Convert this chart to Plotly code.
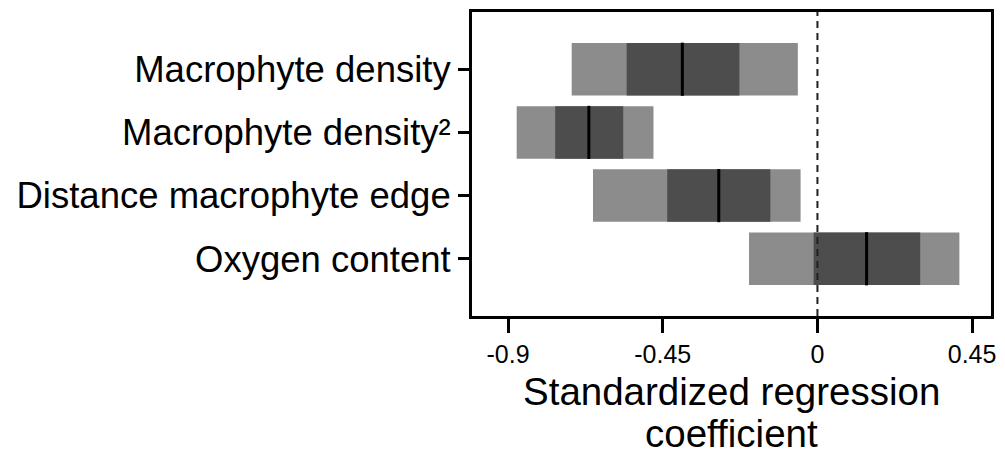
import plotly.graph_objects as go

# Predictors, top to bottom
categories = ["Macrophyte density", "Macrophyte density²",
              "Distance macrophyte edge", "Oxygen content"]

# Outer interval (light band)
outer_low = [-0.715, -0.875, -0.653, -0.199]
outer_high = [-0.057, -0.477, -0.049, 0.413]
# Inner interval (dark band)
inner_low = [-0.555, -0.763, -0.437, -0.011]
inner_high = [-0.227, -0.565, -0.137, 0.299]
# Point estimate
median = [-0.393, -0.665, -0.287, 0.143]

x_ticks = [-0.9, -0.45, 0, 0.45]
x_tick_labels = ["-0.9", "-0.45", "0", "0.45"]
x_title_lines = ["Standardized regression", "coefficient"]

FONT = "Arial, Liberation Sans, sans-serif"
LIGHT = "#8c8c8c"
DARK = "#4d4d4d"
BAR_W = 0.83

fig = go.Figure()

fig.add_trace(go.Bar(
    y=categories,
    x=[h - l for l, h in zip(outer_low, outer_high)],
    base=outer_low,
    orientation="h",
    width=BAR_W,
    marker=dict(color=LIGHT, line=dict(width=0)),
    showlegend=False,
))
fig.add_trace(go.Bar(
    y=categories,
    x=[h - l for l, h in zip(inner_low, inner_high)],
    base=inner_low,
    orientation="h",
    width=BAR_W,
    marker=dict(color=DARK, line=dict(width=0)),
    showlegend=False,
))
fig.add_trace(go.Scatter(
    y=categories,
    x=median,
    mode="markers",
    marker=dict(symbol="line-ns", size=38,
                line=dict(width=3, color="black")),
    showlegend=False,
))

# Zero reference line
fig.add_vline(x=0, line=dict(color="#222222", width=2, dash="7px,5px"),
              layer="above")

# Two-line x-axis title with tight line spacing
for text, shift in zip(x_title_lines, [-75, -117]):
    fig.add_annotation(
        text=text, xref="paper", yref="paper", x=0.5, y=0,
        xanchor="center", yanchor="middle", yshift=shift,
        showarrow=False, font=dict(size=38.5, family=FONT, color="black"),
    )

fig.update_layout(
    width=1005, height=456,
    margin=dict(l=472, r=9, t=10, b=140),
    paper_bgcolor="white",
    plot_bgcolor="white",
    barmode="overlay",
    font=dict(family=FONT, color="black"),
)

fig.update_xaxes(
    range=[-1.005, 0.505],
    tickvals=x_ticks,
    ticktext=x_tick_labels,
    ticks="outside", ticklen=14, tickwidth=3, tickcolor="black",
    tickfont=dict(size=25),
    showline=True, linewidth=3, linecolor="black", mirror=True,
    showgrid=False, zeroline=False,
)
fig.update_yaxes(
    type="category",
    categoryorder="array", categoryarray=categories,
    range=[3.906, -0.906],
    ticks="outside", ticklen=11, tickwidth=3, tickcolor="black",
    tickfont=dict(size=36.5),
    showline=True, linewidth=3, linecolor="black", mirror=True,
    showgrid=False, zeroline=False,
)

fig.write_html("out.html")
